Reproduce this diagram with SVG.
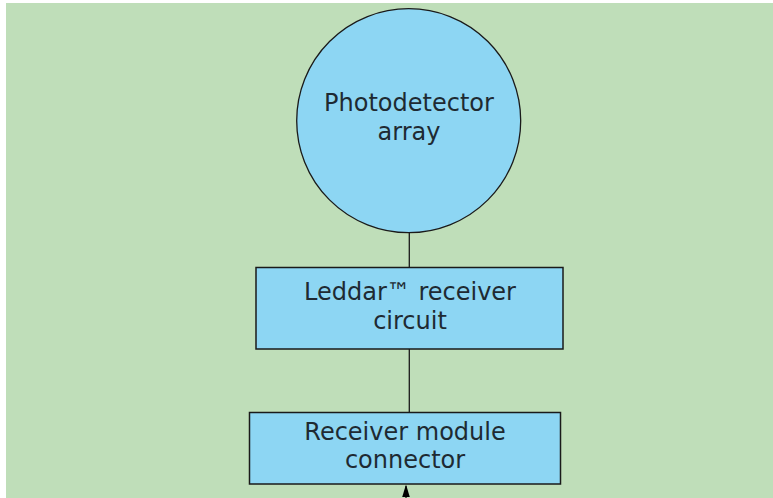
<svg xmlns="http://www.w3.org/2000/svg" width="773" height="498" viewBox="0 0 773 498">
<defs>
<marker id="ah" markerWidth="8" markerHeight="12" refX="4" refY="1" orient="auto-start-reverse" markerUnits="userSpaceOnUse" viewBox="0 0 8 12">
<path d="M4,0 L7.5,12 L0.5,12 Z" fill="#000"/>
</marker>
<style>
.node{fill:#8dd6f3;stroke:#1a1a1a;stroke-width:1.5}
.circ{fill:#8dd6f3;stroke:#1a1a1a;stroke-width:1.3}
.lbl{font-family:"DejaVu Sans",Verdana,sans-serif;font-size:24px;fill:#1e2a32;text-anchor:middle}
.conn{stroke:#1a1a1a;stroke-width:1.3;fill:none}
</style>
</defs>
<rect x="0" y="0" width="773" height="498" fill="#ffffff"/>
<rect x="6" y="3" width="767" height="495" fill="#bfdeb9"/>
<g id="connectors">
<line class="conn" x1="409.3" y1="233" x2="409.3" y2="267"/>
<line class="conn" x1="409.3" y1="349" x2="409.3" y2="412"/>
<line class="conn" x1="406" y1="498" x2="406" y2="486" stroke="#000" stroke-width="1.5"/>
<path d="M406,484.5 L409.8,497 L402.2,497 Z" fill="#000"/>
</g>
<g id="photodetector">
<circle class="circ" cx="408.7" cy="120.7" r="112"/>
<text class="lbl" x="409" y="111">Photodetector</text>
<text class="lbl" x="409" y="140">array</text>
</g>
<g id="receiver-circuit">
<rect class="node" x="256" y="267.5" width="307" height="81.5"/>
<text class="lbl" x="410" y="299.5">Leddar™ receiver</text>
<text class="lbl" x="410" y="329">circuit</text>
</g>
<g id="receiver-connector">
<rect class="node" x="249.5" y="412.5" width="311" height="71.5"/>
<text class="lbl" x="405" y="439.5">Receiver module</text>
<text class="lbl" x="405" y="468">connector</text>
</g>
</svg>
